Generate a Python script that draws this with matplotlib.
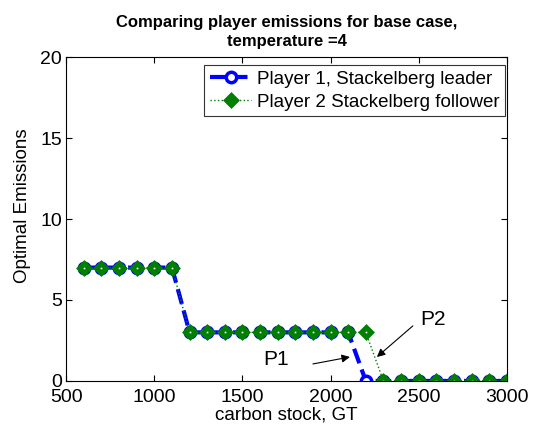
import matplotlib
matplotlib.use('Agg')
import matplotlib.pyplot as plt

# carbon stock (GT) and optimal emissions for each player
carbon_stock = [600, 700, 800, 900, 1000, 1100, 1200, 1300, 1400, 1500, 1600,
                1700, 1800, 1900, 2000, 2100, 2200, 2300, 2400, 2500, 2600,
                2700, 2800, 2900, 3000]
p1_emissions = [7, 7, 7, 7, 7, 7, 3, 3, 3, 3, 3, 3, 3, 3, 3, 3,
                0, 0, 0, 0, 0, 0, 0, 0, 0]
p2_emissions = [7, 7, 7, 7, 7, 7, 3, 3, 3, 3, 3, 3, 3, 3, 3, 3,
                3, 0, 0, 0, 0, 0, 0, 0, 0]

x_ticks = [500, 1000, 1500, 2000, 2500, 3000]
y_ticks = [0, 5, 10, 15, 20]

plt.rcParams['font.family'] = ['Liberation Sans', 'DejaVu Sans']

fig = plt.figure(figsize=(5.34, 4.29), dpi=100)
ax = fig.add_axes([0.124, 0.112, 0.825, 0.755])

ax.plot(carbon_stock, p1_emissions, color='#0000ff', linestyle='--',
        linewidth=3, marker='o', markersize=7.5, markerfacecolor='white',
        markeredgecolor='#0000ff', markeredgewidth=2.5,
        label='Player 1, Stackelberg leader')
ax.plot(carbon_stock, p2_emissions, color='#007f00', linestyle=':',
        linewidth=1, marker='D', markersize=6, markerfacecolor='#007f00',
        markeredgecolor='#007f00', markeredgewidth=2.5,
        label='Player 2 Stackelberg follower')
# tiny white centre of the MATLAB-style diamonds
ax.plot(carbon_stock, p2_emissions, linestyle='none', marker='s',
        markersize=1.2, markerfacecolor='white', markeredgewidth=0)

# annotations: labels and arrows pointing at the drops
ax.text(1617, 1.3, 'P1', fontsize=15, va='center', ha='left')
ax.annotate('', xy=(2110, 1.48), xytext=(1900, 1.05),
            arrowprops=dict(arrowstyle='-|>', color='black', lw=0.8,
                            shrinkA=0, shrinkB=0, mutation_scale=12))
ax.text(2507, 3.8, 'P2', fontsize=15, va='center', ha='left')
ax.annotate('', xy=(2263, 1.48), xytext=(2467, 3.4),
            arrowprops=dict(arrowstyle='-|>', color='black', lw=0.8,
                            shrinkA=0, shrinkB=0, mutation_scale=12))

ax.set_xlim(500, 3000)
ax.set_ylim(0, 20)
ax.set_xticks(x_ticks)
ax.set_yticks(y_ticks)
ax.tick_params(direction='in', top=True, right=True, labelsize=14, length=4)
ax.tick_params(axis='x', pad=6)
ax.tick_params(axis='y', pad=3)
ax.set_xlabel('carbon stock, GT', fontsize=13.5, labelpad=0)
ax.set_ylabel('Optimal Emissions', fontsize=13.5)
ax.yaxis.set_label_coords(-0.08, 0.54)
ax.set_title('Comparing player emissions for base case,\ntemperature =4',
             fontsize=12, fontweight='bold', pad=8, linespacing=1.35)

leg = ax.legend(loc='upper right', bbox_to_anchor=(0.996, 0.975),
                fontsize=13.5, frameon=True, fancybox=False,
                borderpad=0.3, labelspacing=0.3, handlelength=2.2,
                handletextpad=0.3, borderaxespad=0)
leg.get_frame().set_edgecolor('black')
leg.get_frame().set_linewidth(0.8)

fig.savefig('out.png', dpi=100)
